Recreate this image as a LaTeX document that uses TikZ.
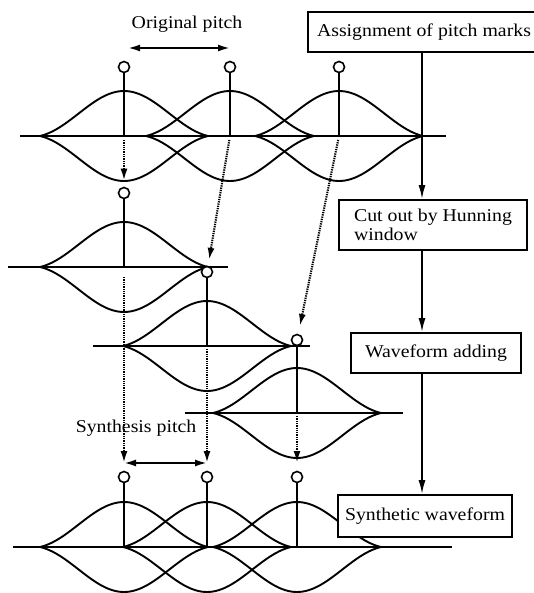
\documentclass[tikz,border=0pt]{standalone}
\usepackage{fontspec}
\setmainfont[FakeStretch=1.1]{Liberation Serif}
\usetikzlibrary{arrows.meta}
\newcommand\hannwave[2]{%
  \draw[wave] plot[domain=-1:1,samples=61,smooth] ({#1+84*\x},{#2-45*(0.72*(1+cos(180*\x))/2+0.28*cos(90*\x))});
  \draw[wave] plot[domain=-1:1,samples=61,smooth] ({#1+84*\x},{#2+45*(0.72*(1+cos(180*\x))/2+0.28*cos(90*\x))});
}
\tikzset{
  wave/.style={line width=1.9pt},
  axisline/.style={line width=2.2pt},
  stem/.style={line width=1.7pt},
  pmark/.style={circle,draw,line width=1.6pt,minimum size=11pt,inner sep=0pt,fill=white},
  dotarrow/.style={line width=2.1pt,dash pattern=on 1.3pt off 1pt,-{Latex[length=12pt,width=7pt]}},
  flow/.style={line width=1.8pt,-{Latex[length=14pt,width=7pt]}},
  pitcharrow/.style={line width=2pt,{Latex[length=12pt,width=7pt]}-{Latex[length=12pt,width=7pt]}},
  box/.style={draw,line width=1.8pt,fill=white,align=left,inner sep=0pt,font=\fontsize{18}{19}\selectfont},
  lbl/.style={inner sep=0pt,font=\fontsize{18}{19}\selectfont},
}
\begin{document}
\begin{tikzpicture}[x=1pt,y=-1pt]
\useasboundingbox (0,0) rectangle (534,593);

% ---------- top row (original) ----------
\draw[axisline] (20,136) -- (446,136);
\hannwave{124}{136}
\hannwave{230}{136}
\hannwave{339}{136}
\coordinate (p1) at (124,136);
\coordinate (p2) at (230,136);
\coordinate (p3) at (339,136);
\node[pmark] (m1) at (124,67) {};
\node[pmark] (m2) at (230,67) {};
\node[pmark] (m3) at (339,67) {};
\draw[stem] (m1) -- (p1);
\draw[stem] (m2) -- (p2);
\draw[stem] (m3) -- (p3);

% original pitch
\node[lbl] (olbl) at (187,24) {Original pitch};
\coordinate (o1) at (128,48);
\coordinate (o2) at (230,48);
\draw[pitcharrow] (o1) -- (o2);

% ---------- row B ----------
\draw[axisline] (8,267) -- (228,267);
\hannwave{124}{267}
\coordinate (pb) at (124,267);
\node[pmark] (mb) at (124,193) {};
\draw[stem] (mb) -- (pb);

% ---------- row C ----------
\draw[axisline] (93,346) -- (310,346);
\hannwave{207}{346}
\coordinate (pc) at (207,346);
\node[pmark] (mc) at (207,272) {};
\draw[stem] (mc) -- (pc);

% ---------- row D ----------
\draw[axisline] (185,413) -- (403,413);
\hannwave{297}{413}
\coordinate (pd) at (297,413);
\node[pmark] (md) at (297,340) {};
\draw[stem] (md) -- (pd);

% ---------- bottom row (synthetic) ----------
\draw[axisline] (13,547) -- (452,547);
\hannwave{124}{547}
\hannwave{207}{547}
\hannwave{297}{547}
\coordinate (e1) at (124,547);
\coordinate (e2) at (207,547);
\coordinate (e3) at (297,547);
\node[pmark] (n1) at (124,477) {};
\node[pmark] (n2) at (207,477) {};
\node[pmark] (n3) at (297,477) {};
\draw[stem] (n1) -- (e1);
\draw[stem] (n2) -- (e2);
\draw[stem] (n3) -- (e3);

% dotted arrows: original marks -> cut windows
\draw[dotarrow,shorten <=4pt,shorten >=6pt] (p1) -- (mb);
\draw[dotarrow,shorten <=4pt,shorten >=6pt] (p2) -- (mc);
\draw[dotarrow,shorten <=4pt,shorten >=8pt] (p3) -- (md);

% dotted arrows: windows -> synthesis positions
\coordinate (q1) at (124,463);
\coordinate (q2) at (207,463);
\coordinate (q3) at (297,463);
\draw[dotarrow,shorten <=10pt] (pb) -- (q1);
\draw[dotarrow,shorten <=3pt] (pc) -- (q2);
\draw[dotarrow,shorten <=3pt] (pd) -- (q3);

% synthesis pitch
\node[lbl] (slbl) at (136,428) {Synthesis pitch};
\draw[pitcharrow] (q1) -- (q2);

% ---------- flow chart ----------
\node[box,minimum width=232pt,minimum height=40pt] (b1) at (424,32) {Assignment of pitch marks};
\node[box,minimum width=188pt,minimum height=50pt] (b2) at (433,225) {Cut out by Hunning\\window};
\node[box,minimum width=170pt,minimum height=40pt] (b3) at (436,353) {Waveform adding};
\node[box,minimum width=174pt,minimum height=42pt] (b4) at (425,516) {Synthetic waveform};
\coordinate (ax) at (422,0);
\draw[flow] (b1.south -| ax) -- (b2.north -| ax);
\draw[flow] (b2.south -| ax) -- (b3.north -| ax);
\draw[flow] (b3.south -| ax) -- (b4.north -| ax);
\end{tikzpicture}
\end{document}
